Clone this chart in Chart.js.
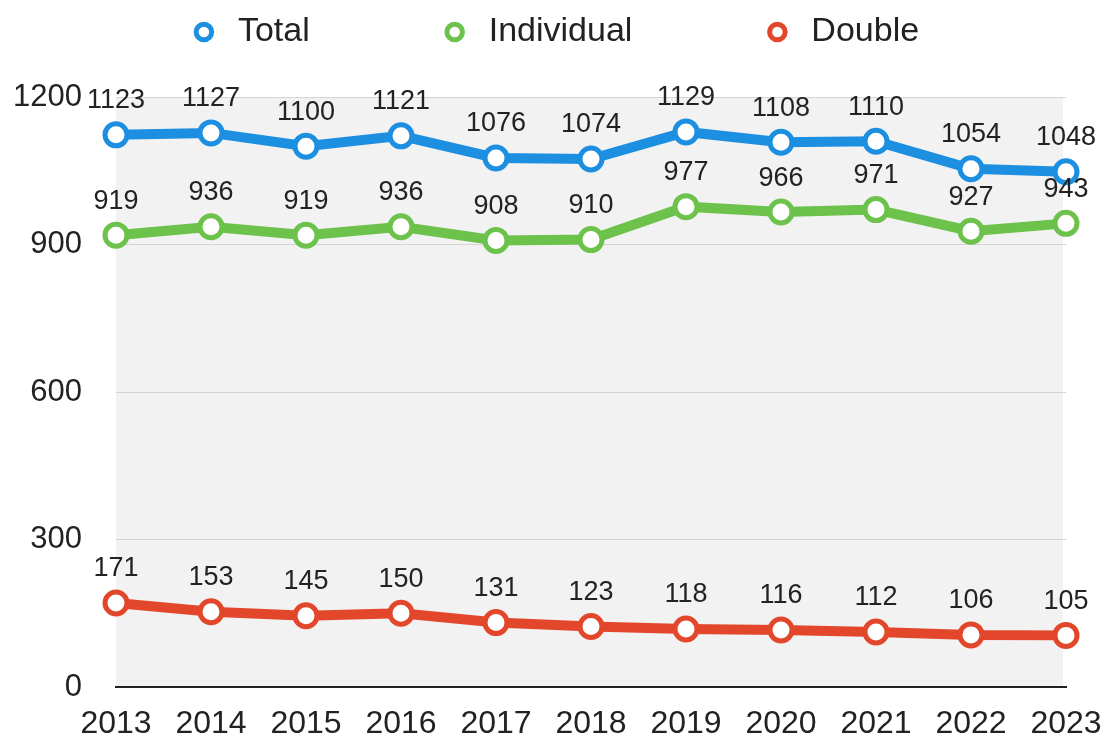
<!DOCTYPE html>
<html>
<head>
<meta charset="utf-8">
<script src="https://cdn.jsdelivr.net/npm/chart.js@4/dist/chart.umd.min.js"></script>
<style>
  html, body { margin: 0; padding: 0; background: #fff; }
  #wrap { width: 1107px; height: 736px; }
</style>
</head>
<body>
<div id="wrap"><canvas id="lineChart" width="1107" height="736"></canvas></div>
<script>
// Chart values.
const years = ['2013', '2014', '2015', '2016', '2017', '2018', '2019', '2020', '2021', '2022', '2023'];
const totalValues = [1123, 1127, 1100, 1121, 1076, 1074, 1129, 1108, 1110, 1054, 1048];
const individualValues = [919, 936, 919, 936, 908, 910, 977, 966, 971, 927, 943];
const doubleValues = [171, 153, 145, 150, 131, 123, 118, 116, 112, 106, 105];
const yTicks = [0, 300, 600, 900, 1200];

const FONT = 'Liberation Sans, Arial, Helvetica, sans-serif';
const LEGEND_PAD = 128;

// Builds one line series with white-filled ring points.
function makeSeries(label, values, color) {
    return {
        label: label,
        data: values,
        borderColor: color,
        backgroundColor: color,
        borderWidth: 10,
        pointRadius: 11,
        pointBorderWidth: 5,
        pointBackgroundColor: '#fff',
        pointBorderColor: color,
        pointStyle: 'circle',
        tension: 0
    };
}

// Light grey plot background behind the lines.
const plotBackground = {
    id: 'plotBackground',
    beforeDraw(chart) {
        const {ctx, chartArea} = chart;
        ctx.save();
        ctx.fillStyle = '#f2f2f2';
        ctx.fillRect(chartArea.left, chartArea.top, chartArea.right - chartArea.left - 3, chartArea.bottom - chartArea.top);
        ctx.restore();
    }
};

// Value labels above each point.
const valueLabels = {
    id: 'valueLabels',
    afterDatasetsDraw(chart) {
        const ctx = chart.ctx;
        ctx.save();
        ctx.font = '27px ' + FONT;
        ctx.fillStyle = '#222';
        ctx.textAlign = 'center';
        ctx.textBaseline = 'middle';
        chart.data.datasets.forEach((ds, i) => {
            chart.getDatasetMeta(i).data.forEach((pt, j) => {
                ctx.fillText(String(ds.data[j]), pt.x, pt.y - 34);
            });
        });
        ctx.restore();
    }
};

// Keeps the legend row near the top while using wide item gaps.
const legendPlace = {
    id: 'legendPlace',
    beforeInit(chart) {
        const fit = chart.legend.fit;
        chart.legend.fit = function () {
            fit.bind(chart.legend)();
            this.height = 97;
        };
    },
    afterLayout(chart) {
        chart.legend.top = 15 - LEGEND_PAD;
        chart.legend.left = 40;
    }
};

const ctx = document.getElementById('lineChart').getContext('2d');
new Chart(ctx, {
    type: 'line',
    data: {
        labels: years,
        datasets: [
            makeSeries('Total', totalValues, '#1d8fe1'),
            makeSeries('Individual', individualValues, '#6cc24a'),
            makeSeries('Double', doubleValues, '#e2472b')
        ]
    },
    options: {
        responsive: false,
        animation: false,
        layout: {padding: {left: 0, right: 41, top: 0, bottom: 0}},
        plugins: {
            tooltip: {enabled: false},
            legend: {
                position: 'top',
                labels: {
                    usePointStyle: true,
                    boxHeight: 11,
                    padding: LEGEND_PAD,
                    color: '#222',
                    font: {family: FONT, size: 34},
                    generateLabels(chart) {
                        const items = Chart.defaults.plugins.legend.labels.generateLabels(chart);
                        return items.map(it => Object.assign(it, {lineWidth: 5, fillStyle: '#fff'}));
                    }
                }
            }
        },
        scales: {
            x: {
                offset: false,
                grid: {display: false, drawTicks: false},
                border: {display: true, color: '#222', width: 2},
                ticks: {color: '#222', padding: 18, maxRotation: 0, font: {family: FONT, size: 32}},
                afterFit: s => { s.height = 49; s.paddingLeft = 0; s.paddingRight = 0; }
            },
            y: {
                min: 0,
                max: 1200,
                afterBuildTicks: s => { s.ticks = yTicks.map(v => ({value: v})); },
                grid: {color: '#d4d4d4', lineWidth: 1, drawTicks: false},
                border: {display: false},
                ticks: {color: '#222', padding: 34, font: {family: FONT, size: 31}, callback: v => String(v)},
                afterFit: s => { s.width = 116; s.paddingTop = 0; s.paddingBottom = 0; }
            }
        }
    },
    plugins: [plotBackground, valueLabels, legendPlace]
});
</script>
</body>
</html>
